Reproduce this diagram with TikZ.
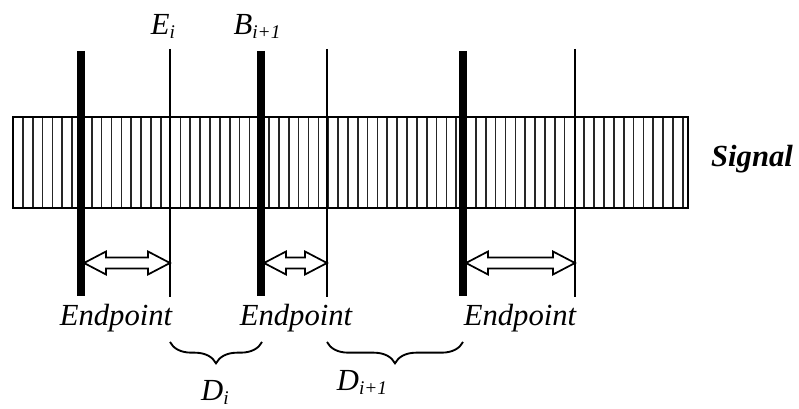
\documentclass[tikz,border=0pt]{standalone}
\usepackage{fontspec}
\setmainfont{Liberation Serif}
\usetikzlibrary{decorations.pathreplacing}

% lowered small index
\newcommand{\lsub}[1]{\raisebox{-3pt}{\fontsize{14.5}{15}\selectfont #1}}
% hollow two-headed range arrow: x1, x2, y
\newcommand{\rngarrow}[3]{%
  \draw[darr] (#1,#3) -- (#1+22,#3+11.5) -- (#1+22,#3+5.5) -- (#2-22,#3+5.5)
    -- (#2-22,#3+11.5) -- (#2,#3) -- (#2-22,#3-11.5) -- (#2-22,#3-5.5)
    -- (#1+22,#3-5.5) -- (#1+22,#3-11.5) -- cycle;}

\begin{document}
\begin{tikzpicture}[
  x=0.75pt, y=0.75pt,
  font=\fontsize{23}{27}\selectfont\itshape,
  sig/.style={draw=black, line width=1.5pt},
  hatch/.style={draw=black!85, line width=1.25pt},
  bnd/.style={draw=black, line width=5.4pt},
  edg/.style={draw=black, line width=1.3pt},
  darr/.style={draw=black, line width=1.3pt, fill=white, line join=miter},
  brc/.style={decorate, decoration={brace, mirror, amplitude=16pt}, draw=black, line width=1.4pt},
  lbl/.style={anchor=base, inner sep=0pt}
]
\useasboundingbox (0,0) rectangle (799,409);

% signal band
\fill[white] (13,201) rectangle (688,292);
\foreach \x in {13,22.85,...,688} \draw[hatch] (\x,201) -- (\x,292);
\draw[sig] (13,201) rectangle (688,292);
\node[lbl, font=\fontsize{23}{27}\selectfont\itshape\bfseries] (signal) at (752,242) {Signal};

% boundaries
\coordinate (b1t) at (81,358);  \coordinate (b1b) at (81,113);
\coordinate (b2t) at (261,358); \coordinate (b2b) at (261,113);
\coordinate (b3t) at (463,358); \coordinate (b3b) at (463,113);
\coordinate (e1t) at (170,360); \coordinate (e1b) at (170,112);
\coordinate (e2t) at (327,360); \coordinate (e2b) at (327,112);
\coordinate (e3t) at (575,360); \coordinate (e3b) at (575,112);
\draw[bnd] (b1t) -- (b1b);
\draw[bnd] (b2t) -- (b2b);
\draw[bnd] (b3t) -- (b3b);
\draw[edg] (e1t) -- (e1b);
\draw[edg] (e2t) -- (e2b);
\draw[edg] (e3t) -- (e3b);

% endpoint ranges
\rngarrow{84}{170}{146}
\rngarrow{264}{327}{146}
\rngarrow{466}{575}{146}

\node[lbl] (ei) at (163,374) {E\lsub{i}};
\node[lbl] (bi) at (257,374) {B\lsub{i+1}};

\node[lbl] (ep1) at (116,83) {Endpoint};
\node[lbl] (ep2) at (296,83) {Endpoint};
\node[lbl] (ep3) at (520,83) {Endpoint};

% gaps
\draw[brc] (170,67) -- (262,67);
\draw[brc] (327,67) -- (463,67);
\node[lbl] (di) at (215,8) {D\lsub{i}};
\node[lbl] (dn) at (362,18) {D\lsub{i+1}};
\end{tikzpicture}
\end{document}
